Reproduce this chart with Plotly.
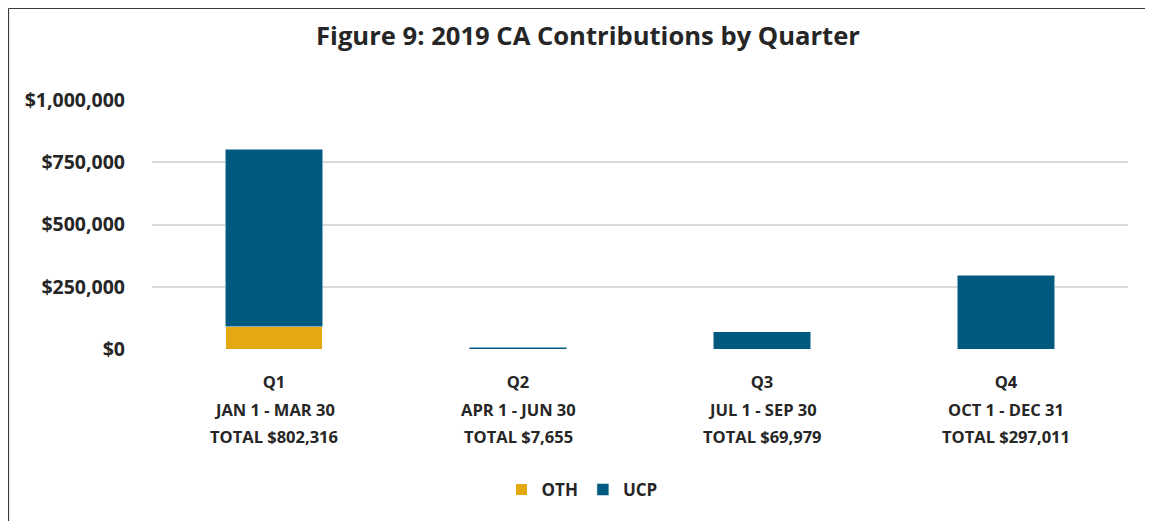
import plotly.graph_objects as go

quarters = ["Q1", "Q2", "Q3", "Q4"]
date_ranges = ["JAN 1 - MAR 30", "APR 1 - JUN 30", "JUL 1 - SEP 30", "OCT 1 - DEC 31"]
totals = ["TOTAL $802,316", "TOTAL $7,655", "TOTAL $69,979", "TOTAL $297,011"]
oth_values = [90000, 0, 0, 0]
ucp_values = [712316, 7655, 69979, 297011]
y_ticks = [0, 250000, 500000, 750000, 1000000]
y_tick_labels = ["$0", "$250,000", "$500,000", "$750,000", "$1,000,000"]

FONT = "Open Sans"
TXT = "#262626"

fig = go.Figure()
fig.add_trace(go.Bar(name="OTH", x=quarters, y=oth_values, marker_color="#E3A812",
                     marker_line_color="white", marker_line_width=1))
fig.add_trace(go.Bar(name="UCP", x=quarters, y=ucp_values, marker_color="#005A80",
                     marker_line_color="white", marker_line_width=0.5))

# page body has an 8px margin: figure coords = window coords - 8
OFF = 8
W, H = 1145, 513
L, T = 152 - OFF, 100 - OFF
plot_right, plot_bottom = 1128 - OFF, 349 - OFF
R, B = W - plot_right, H - plot_bottom
pw, ph = plot_right - L, plot_bottom - T

def px_x(p):
    return (p - OFF - L) / pw

def px_y(p):
    return (plot_bottom - (p - OFF)) / ph

fig.update_layout(
    barmode="stack",
    bargap=0.6,
    width=W, height=H,
    margin=dict(l=L, r=R, t=T, b=B, autoexpand=False),
    plot_bgcolor="white", paper_bgcolor="white",
    font=dict(family=FONT, color=TXT),
    title=dict(text="<b>Figure 9: 2019 CA Contributions by Quarter</b>",
               x=(588 - OFF) / W, xanchor="center", y=1 - (36 - OFF) / H, yanchor="middle",
               font=dict(size=25.6, color=TXT, family=FONT)),
    legend=dict(orientation="h", xref="container", x=(582 - OFF) / W, xanchor="center",
                yref="container", y=1 - (490 - OFF) / H, yanchor="middle",
                font=dict(size=17, color=TXT, family=FONT, weight=700),
                itemwidth=30, traceorder="normal"),
    showlegend=True,
    xaxis=dict(showgrid=False, showline=False, zeroline=False, automargin=False,
               tickfont=dict(size=16.5, color=TXT, family=FONT),
               ticklabelstandoff=21, ticks="",
               tickvals=quarters, ticktext=["<b>%s</b>" % q for q in quarters]),
    yaxis=dict(range=[0, 1000000], tickvals=y_ticks, automargin=False,
               ticktext=["<b>%s</b>" % t for t in y_tick_labels],
               showgrid=True, gridcolor="#D9D9D9", gridwidth=1.5,
               zeroline=False, showline=False, ticks="",
               ticklabelstandoff=26,
               tickfont=dict(size=19.5, color=TXT, family=FONT)),
)

for q, d, t in zip(quarters, date_ranges, totals):
    fig.add_annotation(x=q, xref="x", y=px_y(409), yref="paper", yanchor="middle",
                       text="<b>%s</b>" % d, showarrow=False,
                       font=dict(size=16.5, color=TXT, family=FONT))
    fig.add_annotation(x=q, xref="x", y=px_y(436), yref="paper", yanchor="middle",
                       text="<b>%s</b>" % t, showarrow=False,
                       font=dict(size=16.5, color=TXT, family=FONT))

# chart frame: only top and left edges are visible in the reference
frame = dict(color="#3A3A3A", width=1.2)
fig.add_shape(type="line", xref="paper", yref="paper",
              x0=px_x(8.5), x1=px_x(1170), y0=px_y(8.5), y1=px_y(8.5), line=frame)
fig.add_shape(type="line", xref="paper", yref="paper",
              x0=px_x(8.5), x1=px_x(8.5), y0=px_y(8.5), y1=px_y(540), line=frame)

fig.write_html("out.html")
